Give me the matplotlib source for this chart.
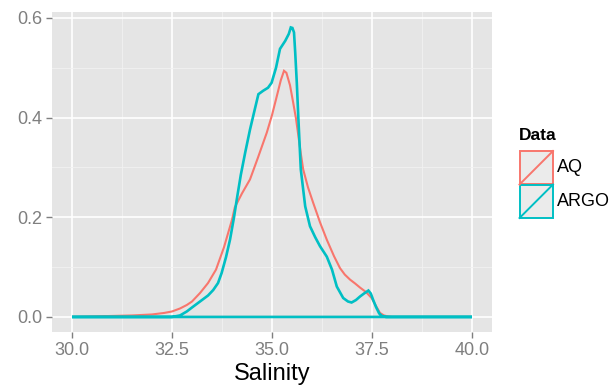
import numpy as np
import matplotlib
matplotlib.use('Agg')
import matplotlib.pyplot as plt
from matplotlib.patches import Rectangle
from matplotlib.lines import Line2D

plt.rcParams['font.family'] = ['Liberation Sans', 'DejaVu Sans']

# density curves
aq_x = [30.0, 30.5, 31.0, 31.5, 32.0, 32.3, 32.5, 32.7, 32.87, 33.0, 33.2, 33.4, 33.6,
        33.8, 34.0, 34.07, 34.25, 34.45, 34.65, 34.87, 35.0, 35.12, 35.22, 35.3, 35.36,
        35.45, 35.53, 35.6, 35.66, 35.72, 35.78, 35.9, 36.03, 36.2, 36.37, 36.55, 36.7,
        36.82, 36.95, 37.08, 37.2, 37.35, 37.49, 37.6, 37.7, 37.8, 37.9, 38.0, 40.0]
aq_y = [0.0, 0.001, 0.002, 0.003, 0.005, 0.008, 0.011, 0.017, 0.024, 0.031, 0.048, 0.068,
        0.095, 0.14, 0.195, 0.22, 0.248, 0.276, 0.32, 0.37, 0.405, 0.443, 0.475, 0.494,
        0.49, 0.465, 0.43, 0.398, 0.363, 0.328, 0.296, 0.26, 0.229, 0.19, 0.155, 0.122,
        0.098, 0.085, 0.075, 0.067, 0.059, 0.05, 0.038, 0.022, 0.008, 0.003, 0.001, 0.0, 0.0]

argo_x = [30.0, 32.5, 32.7, 32.87, 33.0, 33.2, 33.4, 33.53, 33.65, 33.74, 33.85, 33.95,
          34.05, 34.12, 34.22, 34.33, 34.45, 34.55, 34.66, 34.78, 34.9, 34.99, 35.1,
          35.2, 35.33, 35.42, 35.47, 35.51, 35.55, 35.58, 35.62, 35.66, 35.72, 35.83,
          35.95, 36.08, 36.2, 36.37, 36.5, 36.62, 36.78, 36.9, 36.99, 37.1, 37.2, 37.3,
          37.41, 37.47, 37.53, 37.6, 37.68, 37.75, 37.85, 40.0]
argo_y = [0.0, 0.0, 0.003, 0.011, 0.019, 0.031, 0.043, 0.054, 0.068, 0.088, 0.12, 0.155,
          0.2, 0.236, 0.285, 0.33, 0.376, 0.41, 0.447, 0.454, 0.46, 0.47, 0.5, 0.538,
          0.554, 0.568, 0.581, 0.58, 0.571, 0.531, 0.47, 0.397, 0.296, 0.222, 0.182,
          0.16, 0.142, 0.121, 0.095, 0.061, 0.038, 0.031, 0.029, 0.034, 0.041, 0.047,
          0.053, 0.047, 0.034, 0.02, 0.007, 0.002, 0.0, 0.0]

series = ['AQ', 'ARGO']
colors = ['#F8766D', '#00BFC4']
x_ticks = [30.0, 32.5, 35.0, 37.5, 40.0]
y_ticks = [0.0, 0.2, 0.4, 0.6]

W, H = 615, 387
fig = plt.figure(figsize=(W / 100, H / 100), dpi=100)
ax = fig.add_axes([52 / W, 1 - 332 / H, 440 / W, 320 / H])
ax.set_facecolor('#E5E5E5')

for xs, ys, c, lw in [(aq_x, aq_y, colors[0], 1.5), (argo_x, argo_y, colors[1], 1.9)]:
    ax.fill(xs, ys, facecolor='none', edgecolor=c, lw=lw, zorder=3)

ax.set_xlim(29.5, 40.5)
ax.set_ylim(-0.0302, 0.612)
ax.set_xticks(x_ticks)
ax.set_xticklabels(['%.1f' % v for v in x_ticks])
ax.set_yticks(y_ticks)
ax.set_yticklabels(['%.1f' % v for v in y_ticks])
ax.set_xticks([31.25, 33.75, 36.25, 38.75], minor=True)
ax.set_yticks([0.1, 0.3, 0.5], minor=True)
ax.grid(which='major', color='white', lw=1.2)
ax.grid(which='minor', color='#F2F2F2', lw=0.6)
ax.set_axisbelow(True)
for s in ax.spines.values():
    s.set_visible(False)
ax.tick_params(which='major', colors='#7F7F7F', labelsize=13, length=4, width=1, pad=3)
ax.tick_params(which='minor', length=0)
ax.set_xlabel('Salinity', fontsize=17, labelpad=3)

# legend drawn by hand, ggplot style keys
tf = fig.transFigure
fig.text(519 / W, 1 - 136 / H, 'Data', fontsize=12.5, fontweight='bold',
         va='center', ha='left')
for i, (name, c) in enumerate(zip(series, colors)):
    top = 151 + i * 33.5
    x0, y0 = 519.5 / W, 1 - (top + 33.5) / H
    w, h = 33.5 / W, 33.5 / H
    fig.add_artist(Rectangle((x0, y0), w, h, transform=tf, facecolor='#EBEBEB',
                             edgecolor=c, lw=1.4))
    fig.add_artist(Line2D([x0, x0 + w], [y0, y0 + h], transform=tf, color=c, lw=1.4))
    fig.text(557 / W, 1 - (top + 17) / H, name, fontsize=13, va='center', ha='left')

fig.savefig('out.png', dpi=100)
